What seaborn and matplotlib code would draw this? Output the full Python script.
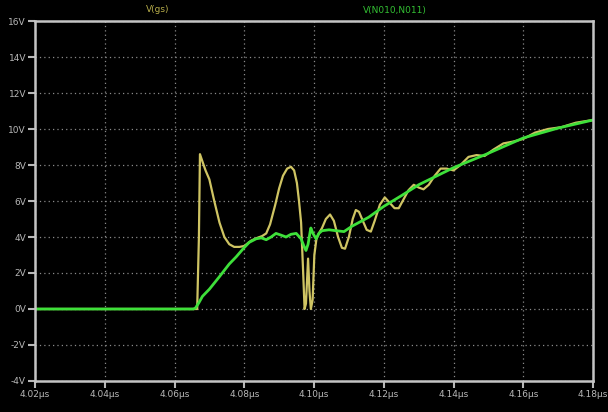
import matplotlib
matplotlib.use("Agg")
import matplotlib.pyplot as plt
from matplotlib.ticker import FuncFormatter
import seaborn as sns
import pandas as pd

# Time axis in microseconds, voltages in volts
t_gs = [4.020, 4.0665, 4.0670, 4.0673, 4.0680, 4.0689, 4.0700, 4.0714, 4.0729,
        4.0743, 4.0757, 4.0771, 4.0786, 4.0800, 4.0820, 4.0837, 4.0851, 4.0863,
        4.0874, 4.0889, 4.0900, 4.0911, 4.0923, 4.0934, 4.0943, 4.0951, 4.0957,
        4.0963, 4.0969, 4.0973, 4.0977, 4.0983, 4.0987, 4.0991, 4.0996, 4.1001,
        4.1007, 4.1014, 4.1023, 4.1034, 4.1046, 4.1057, 4.1069, 4.1080, 4.1089,
        4.1100, 4.1111, 4.1120, 4.1129, 4.1140, 4.1151, 4.1163, 4.1174, 4.1189,
        4.1203, 4.1217, 4.1231, 4.1243, 4.1257, 4.1271, 4.1286, 4.1300, 4.1314,
        4.1329, 4.1346, 4.1363, 4.1380, 4.1400, 4.1420, 4.1443, 4.1466, 4.1489,
        4.1514, 4.1543, 4.1571, 4.1600, 4.1634, 4.1671, 4.1709, 4.1751, 4.1800]
v_gs = [0.0, 0.0, 4.0, 8.6, 8.2, 7.7, 7.2, 6.0, 4.8,
        4.0, 3.6, 3.45, 3.45, 3.5, 3.8, 3.95, 4.05, 4.2,
        4.7, 5.8, 6.7, 7.4, 7.8, 7.9, 7.7, 7.0, 6.0,
        4.8, 2.0, 0.0, 0.3, 2.8, 1.0, 0.0, 0.5, 3.0,
        3.9, 4.2, 4.5, 5.0, 5.25, 4.9, 4.0, 3.4, 3.35,
        4.0, 5.0, 5.5, 5.4, 4.9, 4.4, 4.3, 4.9, 5.8,
        6.2, 5.9, 5.6, 5.6, 6.1, 6.6, 6.9, 6.75, 6.65,
        6.9, 7.4, 7.8, 7.8, 7.7, 8.0, 8.45, 8.55, 8.5,
        8.85, 9.2, 9.3, 9.45, 9.8, 10.0, 10.1, 10.35, 10.5]

t_n = [4.020, 4.0654, 4.0660, 4.0670, 4.0680, 4.0700, 4.0729, 4.0757, 4.0777,
       4.0797, 4.0814, 4.0834, 4.0849, 4.0863, 4.0877, 4.0891, 4.0906, 4.0920,
       4.0934, 4.0949, 4.0963, 4.0971, 4.0977, 4.0983, 4.0989, 4.0991, 4.0997,
       4.1006, 4.1014, 4.1023, 4.1043, 4.1063, 4.1086, 4.1109, 4.1157, 4.1200,
       4.1251, 4.1300, 4.1400, 4.1494, 4.1600, 4.1700, 4.1800]
v_n = [0.0, 0.0, 0.05, 0.35, 0.7, 1.1, 1.8, 2.5, 2.9,
       3.35, 3.7, 3.9, 3.95, 3.85, 4.0, 4.2, 4.1, 4.0,
       4.15, 4.2, 3.9, 3.5, 3.25, 3.6, 4.3, 4.5, 4.2,
       3.9, 4.2, 4.35, 4.4, 4.35, 4.3, 4.6, 5.1, 5.7,
       6.3, 6.9, 7.85, 8.6, 9.5, 10.05, 10.5]

x_ticks = [4.02, 4.04, 4.06, 4.08, 4.10, 4.12, 4.14, 4.16, 4.18]
y_ticks = [-4, -2, 0, 2, 4, 6, 8, 10, 12, 14, 16]

df_gs = pd.DataFrame({"t": t_gs, "v": v_gs})
df_n = pd.DataFrame({"t": t_n, "v": v_n})

sns.set_style("dark")
plt.rcParams["font.family"] = ["DejaVu Sans"]

fig = plt.figure(figsize=(6.08, 4.12), dpi=100, facecolor="black")
ax = fig.add_axes([35 / 608, 31 / 412, 558 / 608, 360 / 412])
ax.set_facecolor("black")

yellow = "#cfc463"
green = "#3ee03a"

sns.lineplot(data=df_gs, x="t", y="v", ax=ax, color=yellow, linewidth=1.6,
             estimator=None, sort=False)
sns.lineplot(data=df_n, x="t", y="v", ax=ax, color=green, linewidth=2.0,
             estimator=None, sort=False)

ax.set_xlim(4.02, 4.18)
ax.set_ylim(-4, 16)
ax.set_xticks(x_ticks)
ax.set_yticks(y_ticks)
ax.xaxis.set_major_formatter(FuncFormatter(lambda v, p: f"{v:.2f}\u00b5s"))
ax.yaxis.set_major_formatter(FuncFormatter(lambda v, p: f"{v:.0f}V"))
ax.set_xlabel("")
ax.set_ylabel("")

ax.grid(True, color="#8a8a8a", linestyle=(0, (1, 2.5)), linewidth=0.9)
for s in ax.spines.values():
    s.set_visible(True)
    s.set_color("#c4c4c4")
    s.set_linewidth(1.8)

ax.tick_params(axis="both", colors="#b8b8b8", labelcolor="#b8b8b8",
               direction="out", length=5, width=1.5, labelsize=6.5, pad=1.5,
               bottom=True, left=True)

fig.text(158 / 608, 1 - 10 / 412, "V(gs)", color="#b7ad4a", fontsize=6.5,
         ha="center", va="center")
fig.text(395 / 608, 1 - 10 / 412, "V(N010,N011)", color="#33c033", fontsize=6.5,
         ha="center", va="center")

fig.savefig("out.png", dpi=100, facecolor="black")
